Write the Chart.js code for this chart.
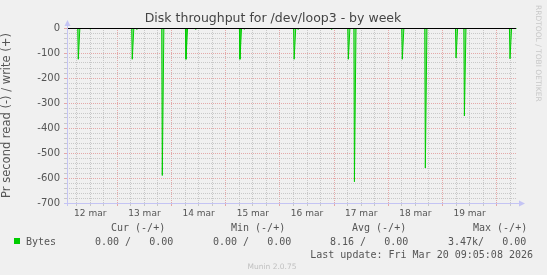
<!DOCTYPE html>
<html>
<head>
<meta charset="utf-8">
<script src="https://cdn.jsdelivr.net/npm/chart.js@4.4.1/dist/chart.umd.min.js"></script>
<style>
  html, body { margin: 0; padding: 0; background: #f0f0f0; }
</style>
</head>
<body>
<canvas id="diskChart" width="547" height="275"></canvas>
<script>
// hours counted from 13 mar 00:00, read values in bytes/s (negative = read)
const spikeHours = [-17.3, -12.1, 6.6, 8.6, 19.9, 30.4, 34.7, 54.3, 56.1, 78.3, 80.0, 94.9, 102.3, 105.0, 126.2, 136.4, 150.0, 153.7, 173.9];
const readValues = [-125, -5, -125, -5, -590, -125, -5, -125, -5, -125, -5, -5, -125, -615, -125, -560, -120, -352, -123];
const dayLabels = ['12 mar', '13 mar', '14 mar', '15 mar', '16 mar', '17 mar', '18 mar', '19 mar'];
const dayNoons = [-12, 12, 36, 60, 84, 108, 132, 156];
const startHour = -22.3;
const endHour = 177.0;

const legendHeaders = ['Cur (-/+)', 'Min (-/+)', 'Avg (-/+)', 'Max (-/+)'];
const legendValues = ['0.00 /   0.00', '0.00 /   0.00', '8.16 /   0.00', '3.47k/   0.00'];
const seriesName = 'Bytes';
const lastUpdate = 'Last update: Fri Mar 20 09:05:08 2026';

// build the line: flat at zero, a narrow dip at each sample
let points = [{x: startHour, y: 0}];
for (let i = 0; i < spikeHours.length; i++) {
  let h = spikeHours[i];
  points.push({x: h - 0.25, y: 0});
  points.push({x: h, y: readValues[i]});
  points.push({x: h + 0.7, y: 0});
}
points.push({x: endHour, y: 0});

const majorGrid = 'rgba(225,150,150,0.8)';
const minorGrid = 'rgba(190,190,190,0.8)';
const axisBlue = '#c4c4f4';

const munin = {
  id: 'munin',
  afterDraw(chart) {
    const ctx = chart.ctx;
    const area = chart.chartArea;
    const y = chart.scales.y;
    ctx.save();

    // zero line
    ctx.strokeStyle = '#000';
    ctx.lineWidth = 1;
    ctx.beginPath();
    let y0 = Math.round(y.getPixelForValue(0)) + 0.5;
    ctx.moveTo(area.left, y0);
    ctx.lineTo(area.right - 1, y0);
    ctx.stroke();

    // axes with arrows
    ctx.strokeStyle = axisBlue;
    ctx.fillStyle = axisBlue;
    ctx.beginPath();
    ctx.moveTo(area.left + 0.5, area.bottom + 3);
    ctx.lineTo(area.left + 0.5, area.top - 3);
    ctx.moveTo(area.left - 3, area.bottom + 0.5);
    ctx.lineTo(area.right + 2, area.bottom + 0.5);
    ctx.stroke();
    ctx.beginPath();
    ctx.moveTo(area.left - 2.5, area.top - 2);
    ctx.lineTo(area.left + 3.5, area.top - 2);
    ctx.lineTo(area.left + 0.5, area.top - 8);
    ctx.fill();
    ctx.beginPath();
    ctx.moveTo(area.right + 2, area.bottom - 2.5);
    ctx.lineTo(area.right + 2, area.bottom + 3.5);
    ctx.lineTo(area.right + 8, area.bottom + 0.5);
    ctx.fill();

    // title
    ctx.fillStyle = '#444';
    ctx.font = '12.5px "DejaVu Sans"';
    ctx.textAlign = 'center';
    ctx.textBaseline = 'middle';
    ctx.fillText('Disk throughput for /dev/loop3 - by week', 273, 19);

    // side credit
    ctx.save();
    ctx.translate(538, 5);
    ctx.rotate(Math.PI / 2);
    ctx.fillStyle = '#c8c8c8';
    ctx.font = '7.5px "DejaVu Sans"';
    ctx.textAlign = 'left';
    ctx.fillText('RRDTOOL / TOBI OETIKER', 0, 0);
    ctx.restore();

    // legend
    ctx.font = '10px "DejaVu Sans Mono"';
    ctx.fillStyle = '#555';
    ctx.textAlign = 'left';
    const headX = [111, 231, 352, 473];
    const valX = [95, 213, 330, 448];
    for (let i = 0; i < legendHeaders.length; i++) {
      ctx.fillText(legendHeaders[i], headX[i], 228.5);
      ctx.fillText(legendValues[i], valX[i], 242);
    }
    ctx.fillText(seriesName, 26, 242);
    ctx.fillStyle = '#00cc00';
    ctx.fillRect(14, 238, 6, 6);
    ctx.fillStyle = '#555';
    ctx.textAlign = 'right';
    ctx.fillText(lastUpdate, 533, 255);

    ctx.fillStyle = '#c0c0c0';
    ctx.font = '7.5px "DejaVu Sans"';
    ctx.textAlign = 'center';
    ctx.fillText('Munin 2.0.75', 272, 267);
    ctx.restore();
  }
};

const canvasElement = document.getElementById('diskChart');
const config = {
  type: 'line',
  data: {
    datasets: [{
      label: seriesName,
      data: points,
      borderColor: '#00cc00',
      borderWidth: 1,
      backgroundColor: 'rgba(70,220,70,0.6)',
      fill: 'origin',
      pointRadius: 0,
      tension: 0
    }]
  },
  options: {
    responsive: false,
    animation: false,
    devicePixelRatio: 1,
    layout: { padding: { left: 0, top: 28, right: 30, bottom: 52 } },
    plugins: { legend: { display: false }, tooltip: { enabled: false } },
    scales: {
      x: {
        type: 'linear',
        min: startHour,
        max: endHour,
        afterFit: (scale) => { scale.height = 20; },
        afterBuildTicks: (scale) => {
          let ticks = [];
          for (let h = -18; h <= 174; h += 6) ticks.push({value: h});
          scale.ticks = ticks;
        },
        ticks: {
          autoSkip: false,
          maxRotation: 0,
          padding: 2,
          color: '#555',
          font: { family: 'DejaVu Sans', size: 9 },
          callback: (value) => {
            let i = dayNoons.indexOf(value);
            return i >= 0 ? dayLabels[i] : '';
          }
        },
        grid: {
          tickLength: 3,
          color: (c) => (c.tick && c.tick.value % 24 === 0) ? majorGrid : minorGrid,
          tickColor: (c) => (c.tick && c.tick.value % 24 === 0) ? majorGrid : minorGrid
        },
        border: { display: false, dash: [1, 1] }
      },
      y: {
        min: -700,
        max: 0,
        afterFit: (scale) => { scale.width = 67; },
        ticks: {
          stepSize: 20,
          autoSkip: false,
          padding: 4,
          color: '#555',
          font: { family: 'DejaVu Sans', size: 10 },
          callback: (value) => value % 100 === 0 ? value : ''
        },
        grid: {
          tickLength: 3,
          color: (c) => {
            if (!c.tick || c.tick.value === 0) return 'rgba(0,0,0,0)';
            return c.tick.value % 100 === 0 ? majorGrid : minorGrid;
          },
          tickColor: (c) => (c.tick && c.tick.value % 100 === 0) ? majorGrid : minorGrid
        },
        border: { display: false, dash: [1, 1] },
        title: {
          display: true,
          text: 'Pr second read (-) / write (+)',
          color: '#555',
          font: { family: 'DejaVu Sans', size: 11.5 },
          padding: { top: 0, bottom: 0 }
        }
      }
    }
  },
  plugins: [munin]
};

const diskChart = new Chart(canvasElement, config);
</script>
</body>
</html>
